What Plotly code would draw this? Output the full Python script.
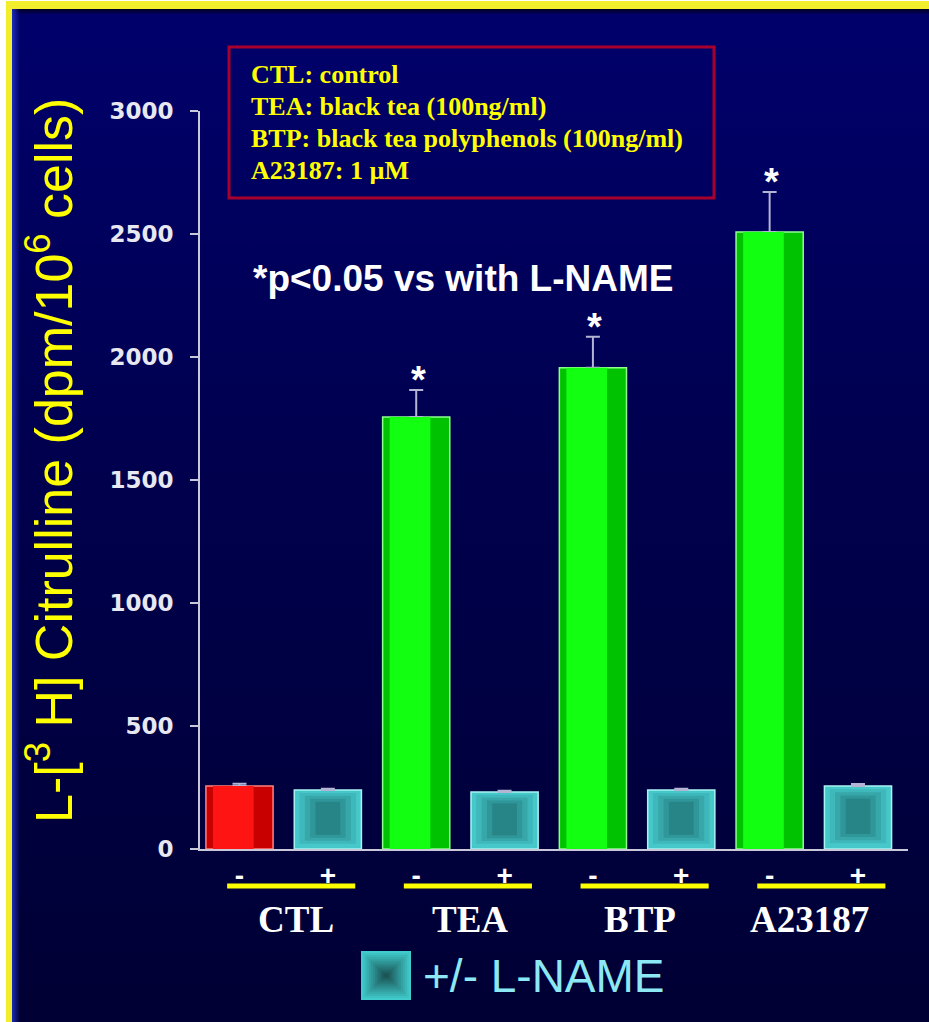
import base64
import plotly.graph_objects as go

# ---------------- data ----------------
groups = ["CTL", "TEA", "BTP", "A23187"]
lname_marks = ["-", "+", "-", "+", "-", "+", "-", "+"]
bar_group = ["CTL", "CTL", "TEA", "TEA", "BTP", "BTP", "A23187", "A23187"]
values = [256, 240, 1756, 232, 1956, 240, 2508, 256]
errors = [9, 5, 110, 5, 126, 5, 163, 8]
significant = [False, False, True, False, True, False, True, False]
key_lines = ["CTL: control", "TEA: black tea (100ng/ml)",
             "BTP: black tea polyphenols (100ng/ml)", "A23187: 1 µM"]
y_ticks = [0, 500, 1000, 1500, 2000, 2500, 3000]
y_title = "L-[<sup>3</sup> H] Citrulline (dpm/10<sup>6</sup> cells)"
p_note = "*p<0.05 vs with L-NAME"
legend_label = "+/- L-NAME"

# ---------------- geometry helpers (pixels -> paper) ----------------
W, H = 929, 1022
L, R, T, B = 200, 908, 111, 849
PW, PH = R - L, B - T


def px(x):
    return (x - L) / PW


def py(y):
    return (B - y) / PH


x_idx = list(range(len(values)))
is_cyan = [m == "+" for m in lname_marks]


def colour_for(mark, grp):
    if mark == "+":
        return "#46c8ca"
    if grp == "CTL":
        return "#c80000"
    return "#00c200"


base_cols = [colour_for(m, g) for m, g in zip(lname_marks, bar_group)]
edge_cols = ["#a8f4f4" if m == "+" else ("#ff8080" if g == "CTL" else "#90ff90")
             for m, g in zip(lname_marks, bar_group)]

fig = go.Figure()
# main bars with edges and error bars
fig.add_trace(go.Bar(
    x=x_idx, y=values, width=0.76,
    marker=dict(color=base_cols, line=dict(color=edge_cols, width=1.5)),
    error_y=dict(type="data", array=errors, arrayminus=[0] * len(errors),
                 symmetric=False, color="#b4b4d4", thickness=2, width=7),
    hoverinfo="skip", showlegend=False,
))
# cylinder highlight on the "-" bars
hi_x = [i for i, c in zip(x_idx, is_cyan) if not c]
hi_y = [v for v, c in zip(values, is_cyan) if not c]
hi_c = ["#ff1414" if bar_group[i] == "CTL" else "#12ff12" for i in hi_x]
fig.add_trace(go.Bar(
    x=hi_x, y=hi_y, width=0.46, offset=-0.3,
    marker=dict(color=hi_c, line=dict(width=0)),
    hoverinfo="skip", showlegend=False,
))
# pyramid (glass) shading on the "+" bars
cy_x = [i for i, c in zip(x_idx, is_cyan) if c]
cy_v = [v for v, c in zip(values, is_cyan) if c]
layers = [(0.64, 0.05, "#3fb8bb"), (0.52, 0.10, "#37a7aa"),
          (0.40, 0.15, "#2f9699"), (0.28, 0.20, "#288587")]
for w, f, col in layers:
    fig.add_trace(go.Bar(
        x=cy_x, y=[v * (1 - 2 * f - 0.04) for v in cy_v], base=[v * (f + 0.04) for v in cy_v],
        width=w, marker=dict(color=col, line=dict(width=0)),
        hoverinfo="skip", showlegend=False,
    ))

shapes = []
annotations = []

# short extension of x-axis line to the left of the y-axis
shapes.append(dict(type="line", xref="paper", yref="paper", x0=px(193), x1=px(200),
                   y0=0, y1=0, line=dict(color="#c8c8d8", width=2)))

# yellow underline for each group and group labels
label_shift = [0.14, 0.11, 0.03, -0.05]
for gi, g in enumerate(groups):
    shapes.append(dict(type="line", xref="x", yref="paper",
                       x0=2 * gi - 0.14, x1=2 * gi + 1.31, y0=py(886), y1=py(886),
                       line=dict(color="#ffff00", width=5)))
    annotations.append(dict(x=2 * gi + 0.5 + label_shift[gi], y=py(920), xref="x", yref="paper",
                            text=g, showarrow=False, xanchor="center", yanchor="middle",
                            font=dict(family="Liberation Serif", size=37, color="#ffffff",
                                      weight="bold")))

# significance stars
for i, (v, e, s) in enumerate(zip(values, errors, significant)):
    if s:
        annotations.append(dict(x=i, y=v + e, xref="x", yref="y", text="*",
                                showarrow=False, xanchor="center", yanchor="bottom",
                                xshift=2, yshift=-13,
                                font=dict(family="Arial", size=38, color="#ffffff",
                                          weight="bold")))

# key box
shapes.append(dict(type="rect", xref="paper", yref="paper", x0=px(229), x1=px(714),
                   y0=py(198), y1=py(47), line=dict(color="#a8002c", width=3)))
for k, line in enumerate(key_lines):
    annotations.append(dict(x=px(249), y=py(74 + 32 * k), xref="paper", yref="paper",
                            text=line, showarrow=False, xanchor="left", yanchor="middle",
                            font=dict(family="Liberation Serif", size=26, color="#ffff00",
                                      weight="bold")))

# p-value note
annotations.append(dict(x=px(251), y=py(278), xref="paper", yref="paper", text=p_note,
                        showarrow=False, xanchor="left", yanchor="middle",
                        font=dict(family="Arial", size=37, color="#ffffff", weight="bold")))

# y-axis title
annotations.append(dict(x=px(50), y=py(461), xref="paper", yref="paper", text=y_title,
                        showarrow=False, xanchor="center", yanchor="middle", textangle=-90,
                        font=dict(family="Arial", size=52, color="#ffff00")))

# legend swatch (pyramid shading) and label
sx0, sx1, sy0, sy1 = 361, 411, 951, 1000
n = 12
c_out, c_in = (64, 204, 204), (28, 84, 86)
for k in range(n):
    t = k / (n - 1)
    c = tuple(int(round(a + (b_ - a) * t)) for a, b_ in zip(c_out, c_in))
    ins = k * 24.5 / n
    shapes.append(dict(type="rect", xref="paper", yref="paper",
                       x0=px(sx0 + ins), x1=px(sx1 - ins), y0=py(sy1 - ins), y1=py(sy0 + ins),
                       line=dict(width=0), fillcolor="rgb(%d,%d,%d)" % c))
annotations.append(dict(x=px(421), y=py(976), xref="paper", yref="paper", text=legend_label,
                        showarrow=False, xanchor="left", yanchor="middle",
                        font=dict(family="Arial", size=46, color="#8ce8f4")))

# background image (frame + vertical navy gradient)
svg = f'''<svg xmlns="http://www.w3.org/2000/svg" width="{W}" height="{H}" viewBox="0 0 {W} {H}" preserveAspectRatio="none">
<defs><linearGradient id="g" x1="0" y1="0" x2="0" y2="1">
<stop offset="0" stop-color="#00006c"/><stop offset="0.45" stop-color="#00004e"/><stop offset="1" stop-color="#000034"/></linearGradient>
<linearGradient id="s" x1="0" y1="0" x2="0" y2="1"><stop offset="0" stop-color="#000010" stop-opacity="0.8"/><stop offset="1" stop-color="#000010" stop-opacity="0"/></linearGradient>
<linearGradient id="sl" x1="0" y1="0" x2="1" y2="0"><stop offset="0" stop-color="#2030c0" stop-opacity="0.9"/><stop offset="1" stop-color="#2030c0" stop-opacity="0"/></linearGradient></defs>
<rect width="{W}" height="{H}" fill="#ffffff"/>
<rect x="6" y="1" width="{W - 6}" height="{H - 1}" fill="#f2ee2c"/>
<rect x="12" y="9" width="{W - 12}" height="{H - 9}" fill="url(#g)"/>
<rect x="12" y="9" width="{W - 12}" height="6" fill="url(#s)"/>
<rect x="12" y="9" width="8" height="{H - 9}" fill="url(#sl)"/>
</svg>'''
src = "data:image/svg+xml;base64," + base64.b64encode(svg.encode()).decode()

fig.update_layout(
    width=W, height=H,
    margin=dict(l=L, r=W - R, t=T, b=H - B, pad=0),
    paper_bgcolor="#000050", plot_bgcolor="rgba(0,0,0,0)",
    barmode="overlay", showlegend=False, hovermode=False,
    images=[dict(source=src, xref="paper", yref="paper", x=px(0), y=py(0),
                 sizex=W / PW, sizey=H / PH, xanchor="left", yanchor="top",
                 sizing="stretch", layer="below")],
    shapes=shapes, annotations=annotations,
    xaxis=dict(range=[-0.447, 7.566], tickvals=x_idx, ticktext=lname_marks, ticks="",
               showline=True, linecolor="#c8c8d8", linewidth=2, showgrid=False,
               zeroline=False, fixedrange=True,
               tickfont=dict(family="Arial", size=28, color="#ffffff", weight="bold")),
    yaxis=dict(range=[0, 3000], tickvals=y_ticks, ticks="outside", ticklen=8,
               tickwidth=2, tickcolor="#c8c8d8", showline=True, linecolor="#c8c8d8",
               linewidth=2, showgrid=False, zeroline=False, ticklabelstandoff=12,
               fixedrange=True,
               tickfont=dict(family="DejaVu Sans", size=23, color="#e8e8f0", weight="bold")),
)

fig.write_html("out.html", config={"displayModeBar": False},
               post_script="document.body.style.margin='0';")
